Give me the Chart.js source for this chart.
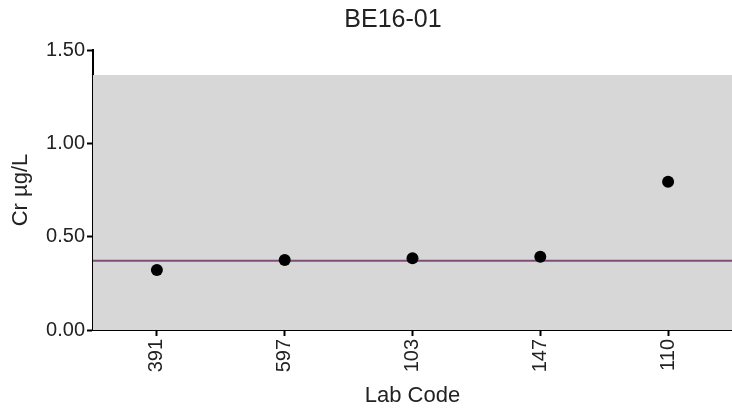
<!doctype html>
<html>
<head>
	<title>BE16-01</title>
	<script src="https://cdn.jsdelivr.net/npm/chart.js@4/dist/chart.umd.min.js"></script>
	<style>
	body { margin: 0; background: #fff; }
	#wrap { position: relative; width: 732px; height: 413px; }
	</style>
</head>
<body>
	<div id="wrap">
		<canvas id="canvas"></canvas>
	</div>

	<script>
		// lab results
		var labCodes = ['391', '597', '103', '147', '110'];
		var crValues = [0.321, 0.375, 0.384, 0.393, 0.794];

		// assigned value and acceptance range
		var targetValue = 0.371;
		var rangeLow = 0;
		var rangeHigh = 1.366;

		var yTickValues = [0, 0.5, 1.0, 1.5];

		var FONT = '"Liberation Sans", Arial, sans-serif';

		// grey acceptance band + purple target line behind the points
		var bandPlugin = {
			id: 'band',
			beforeDatasetsDraw: function(chart) {
				var ctx = chart.ctx, area = chart.chartArea, y = chart.scales.y;
				var top = y.getPixelForValue(rangeHigh);
				var bot = y.getPixelForValue(rangeLow);
				ctx.save();
				ctx.fillStyle = '#d7d7d7';
				ctx.fillRect(area.left, top, area.right - area.left, bot - top);
				var ly = y.getPixelForValue(targetValue);
				ctx.strokeStyle = '#7d4f78';
				ctx.lineWidth = 2;
				ctx.beginPath();
				ctx.moveTo(area.left, ly);
				ctx.lineTo(area.right, ly);
				ctx.stroke();
				ctx.restore();
			}
		};

		var titlePlugin = {
			id: 'topTitle',
			afterDraw: function(chart) {
				var ctx = chart.ctx;
				ctx.save();
				ctx.font = '25px ' + FONT;
				ctx.fillStyle = '#222';
				ctx.textAlign = 'center';
				ctx.textBaseline = 'middle';
				ctx.fillText('BE16-01', 393, 20);
				ctx.restore();
			}
		};

		var ctx = document.getElementById('canvas').getContext('2d');
		window.myChart = new Chart(ctx, {
			type: 'line',
			data: {
				labels: labCodes,
				datasets: [{
					label: 'Cr',
					data: crValues,
					showLine: false,
					pointRadius: 6,
					pointHoverRadius: 6,
					pointBackgroundColor: '#000',
					pointBorderColor: '#000',
					pointBorderWidth: 0
				}]
			},
			plugins: [bandPlugin, titlePlugin],
			options: {
				responsive: true,
				maintainAspectRatio: false,
				animation: false,
				layout: {
					autoPadding: false,
					padding: { top: 50, left: 0, right: 0, bottom: 0 }
				},
				plugins: {
					legend: { display: false },
					title: { display: false },
					tooltip: { enabled: false }
				},
				scales: {
					x: {
						type: 'category',
						offset: true,
						afterFit: function(scale) {
							scale.height = 83;
							scale.paddingLeft = 0;
							scale.paddingRight = 0;
						},
						grid: { display: true, drawOnChartArea: false, tickLength: 6, tickColor: '#000', tickWidth: 2 },
						border: { display: true, color: '#000', width: 2 },
						ticks: {
							minRotation: 90,
							maxRotation: 90,
							padding: 3,
							color: '#222',
							font: { family: FONT, size: 20 }
						},
						title: {
							display: true,
							text: 'Lab Code',
							color: '#222',
							padding: { top: 0, bottom: 4 },
							font: { family: FONT, size: 22 }
						}
					},
					y: {
						min: 0,
						max: 1.5,
						afterFit: function(scale) { scale.width = 93; },
						afterBuildTicks: function(scale) {
							scale.ticks = yTickValues.map(function(v) { return { value: v }; });
						},
						grid: { display: true, drawOnChartArea: false, tickLength: 6, tickColor: '#000', tickWidth: 2 },
						border: { display: true, color: '#000', width: 2 },
						ticks: {
							padding: 2,
							color: '#222',
							font: { family: FONT, size: 20 },
							callback: function(v) { return Number(v).toFixed(2); }
						},
						title: {
							display: true,
							text: 'Cr µg/L',
							color: '#222',
							padding: { top: 8, bottom: 0 },
							font: { family: FONT, size: 22 }
						}
					}
				}
			}
		});
	</script>
</body>
</html>
